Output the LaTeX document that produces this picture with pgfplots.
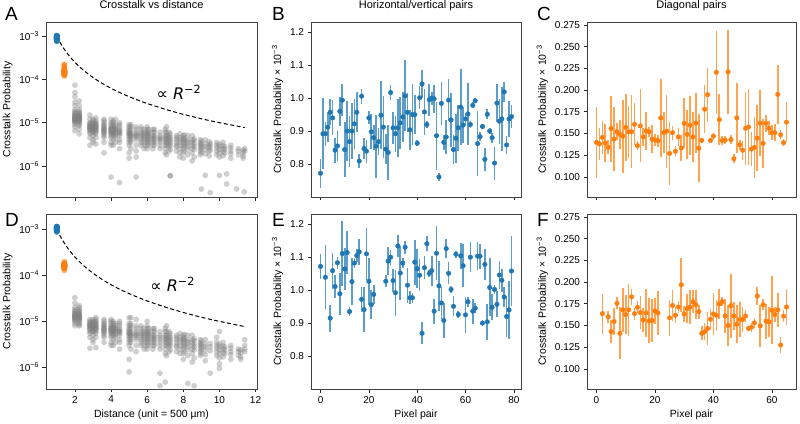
\documentclass[border=0pt]{standalone}
\usepackage{fontspec}
\setmainfont{Liberation Sans}
\newfontfamily\dejavu{DejaVu Sans}
\usepackage{pgfplots}
\usepackage{pgfplotstable}
\pgfplotsset{compat=1.18}
\definecolor{mblue}{HTML}{1F77B4}
\definecolor{morange}{HTML}{FF7F0E}
\pgfkeys{/pgf/number format/assume math mode=true}

\pgfplotstableread{
x y e
0 0.772 0.044
1 0.892 0.107
2 0.892 0.037
3 0.912 0.046
4 0.957 0.039
5 0.940 0.053
6 0.842 0.038
7 0.855 0.045
8 0.960 0.044
9 0.994 0.049
10 0.844 0.083
11 0.900 0.090
12 0.868 0.078
13 0.900 0.086
14 0.922 0.075
15 0.957 0.061
16 0.809 0.021
17 1.006 0.023
18 0.847 0.033
19 0.839 0.035
20 0.940 0.020
21 0.898 0.053
22 0.880 0.038
23 0.854 0.095
24 0.868 0.040
25 0.948 0.103
26 0.912 0.095
27 0.845 0.045
28 0.835 0.083
29 1.017 0.023
30 0.910 0.048
31 0.892 0.055
32 0.910 0.088
33 0.925 0.078
34 0.943 0.075
35 1.007 0.108
36 0.957 0.060
37 0.904 0.060
38 0.950 0.093
39 0.950 0.060
40 0.863 0.009
41 1.001 0.035
42 1.043 0.043
43 0.958 0.070
44 0.920 0.011
45 0.995 0.048
46 1.000 0.020
47 0.998 0.043
48 0.886 0.103
49 0.761 0.013
50 0.984 0.065
51 0.866 0.023
52 0.882 0.053
53 0.994 0.064
54 0.934 0.083
55 0.844 0.045
56 0.878 0.075
57 0.910 0.070
58 0.973 0.115
59 0.918 0.055
60 0.937 0.018
61 0.952 0.095
62 0.920 0.010
63 0.978 0.009
64 0.992 0.008
65 0.862 0.098
66 0.883 0.013
67 0.914 0.009
68 0.814 0.035
69 0.951 0.015
70 0.900 0.010
71 0.880 0.015
72 0.803 0.050
73 0.985 0.058
74 0.930 0.068
75 0.937 0.098
76 1.019 0.030
77 0.858 0.028
78 0.937 0.055
79 0.944 0.035
}\tabB

\pgfplotstableread{
x y e
0 1.072 0.038
2 1.039 0.097
4 0.915 0.041
5 1.059 0.055
6 1.011 0.034
7 1.083 0.018
8 0.989 0.063
9 1.111 0.098
10 1.064 0.064
11 1.114 0.064
12 0.935 0.015
13 1.026 0.070
14 1.082 0.015
15 1.105 0.021
16 1.116 0.040
17 0.972 0.038
18 0.941 0.068
19 1.110 0.079
20 1.027 0.071
21 0.956 0.043
22 0.987 0.030
27 1.027 0.018
28 1.088 0.043
29 1.100 0.023
30 1.029 0.035
31 0.992 0.069
32 1.134 0.034
33 1.052 0.083
34 1.082 0.014
35 1.130 0.020
36 1.015 0.053
37 0.977 0.020
38 0.977 0.015
39 1.085 0.068
40 1.065 0.060
41 1.045 0.049
42 0.869 0.033
43 1.068 0.035
44 1.141 0.023
45 1.051 0.010
46 1.059 0.046
47 0.936 0.038
48 1.112 0.082
49 1.013 0.075
50 0.961 0.048
51 0.908 0.053
52 1.126 0.028
53 1.051 0.033
54 1.002 0.012
55 0.951 0.030
56 1.109 0.011
57 0.926 0.010
58 1.104 0.040
59 1.074 0.065
60 0.925 0.055
61 0.965 0.015
62 1.100 0.045
63 0.936 0.038
64 0.945 0.015
65 1.103 0.043
66 1.103 0.038
67 0.900 0.010
68 1.078 0.048
69 0.904 0.055
70 1.008 0.088
71 0.948 0.040
72 1.002 0.013
73 0.957 0.040
74 1.046 0.043
75 1.030 0.035
76 0.979 0.030
77 0.920 0.063
78 0.940 0.088
79 1.058 0.105
}\tabE

\pgfplotstableread{
x y e
0 0.1398 0.041
1 0.1380 0.018
2 0.1455 0.019
3 0.1390 0.022
4 0.1340 0.008
5 0.1557 0.038
6 0.1435 0.037
7 0.1520 0.010
8 0.1490 0.017
9 0.1470 0.042
10 0.1570 0.039
11 0.1520 0.030
12 0.1520 0.042
13 0.1606 0.024
14 0.1360 0.005
15 0.1587 0.042
16 0.1460 0.010
17 0.1530 0.022
18 0.1520 0.006
19 0.1435 0.016
20 0.1425 0.007
21 0.1417 0.007
22 0.1680 0.045
23 0.1510 0.024
24 0.1527 0.042
25 0.1270 0.036
26 0.1510 0.008
27 0.1295 0.006
28 0.1460 0.010
29 0.1333 0.015
30 0.1617 0.029
31 0.1490 0.028
32 0.1595 0.034
33 0.1460 0.029
34 0.1620 0.035
35 0.1330 0.039
36 0.1420 0.003
37 0.1780 0.028
38 0.1947 0.031
39 0.1420 0.003
40 0.1470 0.004
41 0.2205 0.048
42 0.1660 0.029
43 0.1420 0.005
44 0.1424 0.005
45 0.2210 0.048
46 0.1430 0.005
47 0.1210 0.005
48 0.1680 0.040
49 0.1370 0.006
50 0.1307 0.011
51 0.1560 0.042
52 0.1576 0.044
53 0.1320 0.020
54 0.1340 0.035
55 0.1447 0.038
56 0.1620 0.038
57 0.1386 0.028
58 0.1617 0.010
59 0.1560 0.008
60 0.1510 0.009
61 0.1510 0.010
62 0.1950 0.034
63 0.1485 0.005
64 0.1394 0.004
65 0.1630 0.023
}\tabC

\pgfplotstableread{
x y e
2 0.1637 0.023
4 0.1600 0.007
5 0.1430 0.013
6 0.1546 0.016
7 0.1755 0.007
8 0.1409 0.030
9 0.1680 0.025
10 0.1626 0.022
11 0.1680 0.030
12 0.1830 0.009
13 0.1637 0.007
14 0.1710 0.007
15 0.1649 0.019
16 0.1565 0.014
17 0.1645 0.028
18 0.1553 0.026
19 0.1557 0.025
20 0.1668 0.015
21 0.1645 0.025
25 0.1588 0.021
26 0.1730 0.018
27 0.1618 0.009
28 0.1713 0.007
29 0.1969 0.031
30 0.1633 0.009
31 0.1694 0.017
32 0.1713 0.020
33 0.1774 0.013
34 0.1740 0.017
35 0.1660 0.008
36 0.1409 0.008
37 0.1428 0.010
38 0.1466 0.019
39 0.1572 0.012
40 0.1633 0.024
41 0.1618 0.018
42 0.1748 0.017
43 0.1774 0.005
44 0.1610 0.020
45 0.1500 0.024
46 0.1729 0.037
47 0.1610 0.016
48 0.1515 0.022
49 0.1569 0.020
50 0.1569 0.014
51 0.1610 0.007
52 0.1466 0.003
53 0.1480 0.005
54 0.1530 0.006
55 0.1840 0.010
56 0.1496 0.024
57 0.1740 0.006
58 0.1550 0.020
59 0.1542 0.017
60 0.1675 0.039
61 0.1626 0.009
62 0.1680 0.020
63 0.1275 0.009
64 0.1607 0.007
65 0.1713 0.021
}\tabF

\pgfplotsset{
  panel/.style={
    scale only axis, height=175pt, anchor=south west,
    axis line style={black!75, line width=0.6pt},
    tick style={black!85, line width=0.6pt},
    major tick length=3.5pt, minor tick length=2pt,
    tick align=outside, tick pos=left,
    tick label style={font=\fontsize{10}{12}\selectfont, black},
    label style={font=\fontsize{10.5}{12}\selectfont},
    title style={font=\fontsize{11}{13}\selectfont, at={(0.5,1)}, anchor=base, yshift=7.5pt, inner sep=0pt},
  },
  logpanel/.style={panel, width=211pt, xmin=0.40, xmax=12.08,
    xtick={2,4,6,8,10,12},
    ytick={1e-6,1e-5,1e-4,1e-3},
    yticklabels={10\textsuperscript{−6},10\textsuperscript{−5},10\textsuperscript{−4},10\textsuperscript{−3}},
    yminorticks=false,
    ylabel={Crosstalk Probability}},
  hvpanel/.style={panel, width=210pt, xmin=-3.95, xmax=82.95, ymin=0.70, ymax=1.231,
    xtick={0,20,40,60,80}, ytick={0.8,0.9,1.0,1.1,1.2},
    yticklabel style={/pgf/number format/.cd, fixed, fixed zerofill, precision=1},
    ylabel={Crosstalk Probability × 10\textsuperscript{−3}}},
  dgpanel/.style={panel, width=209pt, xmin=-3.25, xmax=68.25, ymin=0.0768, ymax=0.2785,
    xtick={0,20,40,60}, ytick={0.100,0.125,0.150,0.175,0.200,0.225,0.250,0.275},
    yticklabel style={/pgf/number format/.cd, fixed, fixed zerofill, precision=3},
    ylabel={Crosstalk Probability × 10\textsuperscript{−3}}},
  greypts/.style={only marks, mark=*, mark size=2.9pt, color=gray,
    mark options={fill=gray, fill opacity=0.38, draw opacity=0}},
  clus/.style={only marks, mark=*, mark size=2.9pt, color=#1,
    mark options={fill=#1, fill opacity=0.6, draw opacity=0}},
  eb/.style={only marks, mark=*, mark size=2.3pt, color=#1,
    error bars/.cd, y dir=both, y explicit, error mark=none,
    error bar style={line width=1.6pt, #1, opacity=0.72}},
}

\begin{document}
\begin{tikzpicture}

% ---------------- A ----------------
\begin{axis}[ymode=log, logpanel, at={(46pt,226pt)}, ymin=1.9e-7, ymax=2.14e-3,
  xticklabels={}, title={Crosstalk vs distance}]
\addplot[greypts] coordinates {
(2,13e-6)(2,12e-6)(2,11e-6)(2,14e-6)(2,15e-6)(2,10e-6)(2,9e-6)(2,16e-6)(2,18e-6)(2,12.5e-6)(2,11.5e-6)(2,13.5e-6)(2,8e-6)(2,20e-6)(2,25e-6)(2,40e-6)(2,50e-6)(2,74e-6)(2,30e-6)(2,14.5e-6)(2,10.5e-6)(2,17e-6)(2,12e-6)(2,13e-6)(2,11e-6)(2,6.5e-6)
(2.24,12e-6)(2.24,13e-6)(2.24,14e-6)(2.24,11e-6)(2.24,10e-6)(2.24,15e-6)(2.24,9e-6)(2.24,16e-6)(2.24,17e-6)(2.24,12.5e-6)(2.24,13.5e-6)(2.24,11.5e-6)(2.24,8.5e-6)(2.24,7e-6)(2.24,5.5e-6)(2.24,20e-6)(2.24,25e-6)(2.24,32e-6)(2.24,14.5e-6)(2.24,10.5e-6)(2.24,18e-6)(2.24,12e-6)(2.24,13e-6)(2.24,15e-6)(2.24,11e-6)
(2.83,7e-6)(2.83,8e-6)(2.83,9e-6)(2.83,6e-6)(2.83,7.5e-6)(2.83,8.5e-6)(2.83,10e-6)(2.83,5.5e-6)(2.83,12e-6)(2.83,15e-6)(2.83,6.5e-6)(2.83,4.5e-6)(2.83,3e-6)(2.83,7.2e-6)(2.83,8.2e-6)(2.83,9.5e-6)
(3,7e-6)(3,8e-6)(3,6.5e-6)(3,9e-6)(3,7.5e-6)(3,10e-6)(3,5e-6)(3,8.5e-6)(3,6e-6)(3,12e-6)(3,11e-6)(3,4e-6)(3,3.5e-6)(3,7.8e-6)(3,9.5e-6)(3,7e-6)(3,8e-6)(3,6e-6)
(3.16,7.5e-6)(3.16,8e-6)(3.16,9e-6)(3.16,6.5e-6)(3.16,10e-6)(3.16,7e-6)(3.16,5.5e-6)(3.16,11e-6)(3.16,13e-6)(3.16,8.5e-6)(3.16,6e-6)(3.16,4.5e-6)(3.16,3.2e-6)(3.16,9.5e-6)(3.16,7e-6)(3.16,8e-6)
(3.61,7e-6)(3.61,6e-6)(3.61,8e-6)(3.61,5e-6)(3.61,9e-6)(3.61,10e-6)(3.61,6.5e-6)(3.61,7.5e-6)(3.61,11e-6)(3.61,4.5e-6)(3.61,3.5e-6)(3.61,12e-6)(3.61,5.5e-6)(3.61,8.5e-6)(3.61,2e-6)(3.61,7e-6)(3.61,6e-6)
(4,6e-6)(4,7e-6)(4,5.5e-6)(4,8e-6)(4,9e-6)(4,4.5e-6)(4,10e-6)(4,6.5e-6)(4,7.5e-6)(4,3.5e-6)(4,12e-6)(4,5e-6)(4,3e-6)(4,0.55e-6)(4,6e-6)(4,7e-6)
(4.12,6e-6)(4.12,7e-6)(4.12,8e-6)(4.12,5e-6)(4.12,9e-6)(4.12,10e-6)(4.12,4e-6)(4.12,6.5e-6)(4.12,11e-6)(4.12,7.5e-6)(4.12,5.5e-6)(4.12,3e-6)(4.12,6e-6)
(4.24,6e-6)(4.24,5e-6)(4.24,7e-6)(4.24,8e-6)(4.24,4.5e-6)(4.24,9e-6)(4.24,5.5e-6)(4.24,12e-6)(4.24,3.5e-6)(4.24,6.5e-6)(4.24,7e-6)
(4.47,6.5e-6)(4.47,5e-6)(4.47,7e-6)(4.47,8e-6)(4.47,4e-6)(4.47,9e-6)(4.47,5.5e-6)(4.47,3.5e-6)(4.47,10e-6)(4.47,6e-6)(4.47,2.5e-6)(4.47,0.41e-6)(4.47,6e-6)
(5,5e-6)(5,6e-6)(5,4.5e-6)(5,7e-6)(5,5.5e-6)(5,8e-6)(5,3.5e-6)(5,4e-6)(5,9e-6)(5,6.5e-6)(5,3e-6)(5,2e-6)(5,1.5e-6)(5,5.5e-6)
(5.1,5.5e-6)(5.1,6e-6)(5.1,4.5e-6)(5.1,7e-6)(5.1,5e-6)(5.1,8e-6)(5.1,3.5e-6)(5.1,4e-6)(5.1,9e-6)(5.1,2.5e-6)(5.1,5e-6)
(5.39,5e-6)(5.39,6e-6)(5.39,4e-6)(5.39,7e-6)(5.39,5.5e-6)(5.39,3e-6)(5.39,8e-6)(5.39,4.5e-6)(5.39,2.2e-6)(5.39,1.6e-6)(5.39,0.55e-6)(5.39,5e-6)
(5.66,5e-6)(5.66,4e-6)(5.66,6e-6)(5.66,4.5e-6)(5.66,3.5e-6)(5.66,7e-6)(5.66,5.5e-6)(5.66,8e-6)(5.66,3e-6)
(5.83,4.5e-6)(5.83,5.5e-6)(5.83,4e-6)(5.83,6e-6)(5.83,3.5e-6)(5.83,7e-6)(5.83,5e-6)(5.83,3e-6)(5.83,2.5e-6)
(6,5e-6)(6,4e-6)(6,6e-6)(6,4.5e-6)(6,3.5e-6)(6,5.5e-6)(6,7e-6)(6,3e-6)(6,8e-6)(6,2.5e-6)
(6.08,4.5e-6)(6.08,5e-6)(6.08,4e-6)(6.08,6e-6)(6.08,3.5e-6)(6.08,7e-6)(6.08,5.5e-6)(6.08,3e-6)
(6.32,4.5e-6)(6.32,5e-6)(6.32,3.5e-6)(6.32,6e-6)(6.32,4e-6)(6.32,7e-6)(6.32,3e-6)(6.32,2.5e-6)
(6.4,4e-6)(6.4,5e-6)(6.4,3.5e-6)(6.4,6e-6)(6.4,4.5e-6)(6.4,3e-6)(6.4,7e-6)
(6.71,4e-6)(6.71,4.5e-6)(6.71,5e-6)(6.71,3.5e-6)(6.71,6e-6)(6.71,3e-6)(6.71,2.5e-6)(6.71,4.2e-6)
(7,4e-6)(7,3.5e-6)(7,5e-6)(7,4.5e-6)(7,3e-6)(7,6e-6)(7,2.5e-6)(7,2e-6)(7,7e-6)
(7.07,4e-6)(7.07,5e-6)(7.07,3.5e-6)(7.07,4.5e-6)(7.07,6e-6)(7.07,3e-6)(7.07,8e-6)(7.07,1.8e-6)
(7.21,3.8e-6)(7.21,4.5e-6)(7.21,3.2e-6)(7.21,5e-6)(7.21,2.8e-6)(7.21,6e-6)(7.21,2.2e-6)
(7.28,4e-6)(7.28,3.5e-6)(7.28,4.5e-6)(7.28,5.5e-6)(7.28,3e-6)(7.28,2.4e-6)(7.28,0.59e-6)(7.28,0.59e-6)
(7.62,3.5e-6)(7.62,4e-6)(7.62,3e-6)(7.62,4.5e-6)(7.62,2.8e-6)(7.62,5e-6)(7.62,2.2e-6)
(7.81,3.5e-6)(7.81,3e-6)(7.81,4e-6)(7.81,4.5e-6)(7.81,2.5e-6)(7.81,5.5e-6)(7.81,2e-6)(7.81,1.6e-6)
(8,3.5e-6)(8,3e-6)(8,4e-6)(8,2.5e-6)(8,5e-6)(8,4.5e-6)(8,2e-6)(8,1.5e-6)
(8.06,3.2e-6)(8.06,3.8e-6)(8.06,2.8e-6)(8.06,4.2e-6)(8.06,5.2e-6)(8.06,2.2e-6)
(8.25,3.2e-6)(8.25,2.8e-6)(8.25,4e-6)(8.25,2.4e-6)(8.25,5e-6)(8.25,1.8e-6)(8.25,3.6e-6)
(8.49,3e-6)(8.49,3.5e-6)(8.49,2.5e-6)(8.49,4e-6)(8.49,2e-6)(8.49,5e-6)(8.49,1.3e-6)
(8.6,3.2e-6)(8.6,2.8e-6)(8.6,3.8e-6)(8.6,2.4e-6)(8.6,4.2e-6)(8.6,1.6e-6)
(8.94,3e-6)(8.94,2.6e-6)(8.94,3.4e-6)(8.94,2.2e-6)(8.94,4e-6)(8.94,1.8e-6)
(9,2.8e-6)(9,3.2e-6)(9,2.4e-6)(9,3.8e-6)(9,2e-6)(9,0.29e-6)
(9.22,2.8e-6)(9.22,3.2e-6)(9.22,2.4e-6)(9.22,4e-6)(9.22,1.9e-6)(9.22,0.6e-6)
(9.43,2.6e-6)(9.43,3e-6)(9.43,2.2e-6)(9.43,3.6e-6)(9.43,1.7e-6)
(9.49,2.8e-6)(9.49,3.3e-6)(9.49,2.3e-6)(9.49,0.24e-6)
(9.85,2.6e-6)(9.85,3e-6)(9.85,2.2e-6)(9.85,3.5e-6)(9.85,1.8e-6)
(10,2.4e-6)(10,2.8e-6)(10,2e-6)(10,3.2e-6)(10,1.6e-6)(10,0.6e-6)
(10.2,2.5e-6)(10.2,2.1e-6)(10.2,2.9e-6)(10.2,3.5e-6)(10.2,1.7e-6)
(10.3,2.4e-6)(10.3,2e-6)(10.3,2.8e-6)(10.4,0.65e-6)(10.4,0.38e-6)
(10.63,2.2e-6)(10.63,2.6e-6)(10.63,1.9e-6)(10.63,3e-6)(10.63,1.5e-6)
(11.05,2.2e-6)(11.05,1.8e-6)(11.05,2.5e-6)(10.95,0.29e-6)
(11.31,2e-6)(11.31,2.3e-6)(11.31,1.7e-6)(11.31,1.5e-6)
(11.4,2.2e-6)(11.4,2.5e-6)(11.38,0.25e-6)
};
\addplot[clus=morange] table[x expr=1.414, y expr=\thisrow{y}*1e-3] {\tabC};
\addplot[clus=mblue] table[x expr=1, y expr=\thisrow{y}*1e-3] {\tabB};
\addplot[black, line width=1pt, dash pattern=on 4pt off 2.5pt, smooth] coordinates {
(1,1.0e-3)(1.2,6.94e-4)(1.4,5.1e-4)(1.6,3.91e-4)(1.8,3.09e-4)(2,2.5e-4)(2.3,1.89e-4)(2.6,1.48e-4)(3,1.11e-4)(3.5,8.16e-5)(4,6.25e-5)(4.5,4.94e-5)(5,4.0e-5)(5.5,3.31e-5)(6,2.78e-5)(7,2.04e-5)(8,1.56e-5)(9,1.23e-5)(10,1.0e-5)(11.4,7.7e-6)};
\node[font=\dejavu\fontsize{16}{18}\selectfont] at (rel axis cs:0.63,0.6) {∝ \textit{R}\textsuperscript{−2}};
\end{axis}

% ---------------- D ----------------
\begin{axis}[ymode=log, logpanel, at={(46pt,34pt)}, ymin=3.4e-7, ymax=2.14e-3,
  xlabel={Distance (unit = 500 µm)}]
\addplot[greypts] coordinates {
(2,13e-6)(2,12e-6)(2,14e-6)(2,15e-6)(2,11e-6)(2,10e-6)(2,16e-6)(2,18e-6)(2,12.5e-6)(2,13.5e-6)(2,11.5e-6)(2,9e-6)(2,20e-6)(2,25e-6)(2,33e-6)(2,14.5e-6)(2,10.5e-6)(2,17e-6)(2,12e-6)(2,13e-6)(2,8e-6)
(2.24,12e-6)(2.24,13e-6)(2.24,14e-6)(2.24,11e-6)(2.24,10e-6)(2.24,15e-6)(2.24,9e-6)(2.24,16e-6)(2.24,17e-6)(2.24,12.5e-6)(2.24,13.5e-6)(2.24,11.5e-6)(2.24,8.5e-6)(2.24,20e-6)(2.24,22e-6)(2.24,14.5e-6)(2.24,10.5e-6)(2.24,18e-6)(2.24,12e-6)(2.24,8e-6)
(2.83,7e-6)(2.83,8e-6)(2.83,9e-6)(2.83,6e-6)(2.83,7.5e-6)(2.83,8.5e-6)(2.83,10e-6)(2.83,5.5e-6)(2.83,11e-6)(2.83,6.5e-6)(2.83,4.5e-6)(2.83,2.6e-6)(2.83,7.2e-6)(2.83,8.2e-6)(2.83,9.5e-6)
(3,7e-6)(3,8e-6)(3,6.5e-6)(3,9e-6)(3,7.5e-6)(3,10e-6)(3,5e-6)(3,8.5e-6)(3,6e-6)(3,11e-6)(3,4e-6)(3,3.5e-6)(3,7.8e-6)(3,9.5e-6)(3,7e-6)(3,8e-6)(3,6e-6)
(3.16,7.5e-6)(3.16,8e-6)(3.16,9e-6)(3.16,6.5e-6)(3.16,10e-6)(3.16,7e-6)(3.16,5.5e-6)(3.16,11e-6)(3.16,12e-6)(3.16,8.5e-6)(3.16,6e-6)(3.16,4.5e-6)(3.16,2.7e-6)(3.16,9.5e-6)(3.16,7e-6)(3.16,8e-6)
(3.61,7e-6)(3.61,6e-6)(3.61,8e-6)(3.61,5e-6)(3.61,9e-6)(3.61,10e-6)(3.61,6.5e-6)(3.61,7.5e-6)(3.61,11e-6)(3.61,4.5e-6)(3.61,3.5e-6)(3.61,5.5e-6)(3.61,8.5e-6)(3.61,7e-6)(3.61,6e-6)
(4,6e-6)(4,7e-6)(4,5.5e-6)(4,8e-6)(4,9e-6)(4,4.5e-6)(4,10e-6)(4,6.5e-6)(4,7.5e-6)(4,3.5e-6)(4,11e-6)(4,5e-6)(4,3e-6)(4,6e-6)(4,7e-6)
(4.12,6e-6)(4.12,7e-6)(4.12,8e-6)(4.12,5e-6)(4.12,9e-6)(4.12,10e-6)(4.12,4e-6)(4.12,6.5e-6)(4.12,7.5e-6)(4.12,5.5e-6)(4.12,3e-6)(4.12,6e-6)
(4.24,6e-6)(4.24,5e-6)(4.24,7e-6)(4.24,8e-6)(4.24,4.5e-6)(4.24,9e-6)(4.24,5.5e-6)(4.24,3.5e-6)(4.24,6.5e-6)(4.24,7e-6)
(4.47,6.5e-6)(4.47,5e-6)(4.47,7e-6)(4.47,8e-6)(4.47,4e-6)(4.47,9e-6)(4.47,5.5e-6)(4.47,3.5e-6)(4.47,10e-6)(4.47,6e-6)(4.47,2.5e-6)(4.47,6e-6)
(5,5e-6)(5,6e-6)(5,4.5e-6)(5,7e-6)(5,5.5e-6)(5,8e-6)(5,3.5e-6)(5,4e-6)(5,9e-6)(5,6.5e-6)(5,3e-6)(5,1.5e-6)(5,0.8e-6)(5,12e-6)(5,5.5e-6)
(5.1,5.5e-6)(5.1,6e-6)(5.1,4.5e-6)(5.1,7e-6)(5.1,5e-6)(5.1,8e-6)(5.1,3.5e-6)(5.1,4e-6)(5.1,9e-6)(5.1,2.5e-6)(5.1,5e-6)(5.1,12e-6)
(5.39,5e-6)(5.39,6e-6)(5.39,4e-6)(5.39,7e-6)(5.39,5.5e-6)(5.39,3e-6)(5.39,8e-6)(5.39,4.5e-6)(5.39,2.2e-6)(5.39,5e-6)(5.39,11e-6)
(5.66,5e-6)(5.66,4e-6)(5.66,6e-6)(5.66,4.5e-6)(5.66,3.5e-6)(5.66,7e-6)(5.66,5.5e-6)(5.66,8e-6)(5.66,3e-6)
(5.83,4.5e-6)(5.83,5.5e-6)(5.83,4e-6)(5.83,6e-6)(5.83,3.5e-6)(5.83,7e-6)(5.83,5e-6)(5.83,3e-6)(5.83,2.5e-6)
(6,5e-6)(6,4e-6)(6,6e-6)(6,4.5e-6)(6,3.5e-6)(6,5.5e-6)(6,7e-6)(6,3e-6)(6,8e-6)(6,2.5e-6)(6,10e-6)
(6.08,4.5e-6)(6.08,5e-6)(6.08,4e-6)(6.08,6e-6)(6.08,3.5e-6)(6.08,7e-6)(6.08,5.5e-6)(6.08,3e-6)
(6.32,4.5e-6)(6.32,5e-6)(6.32,3.5e-6)(6.32,6e-6)(6.32,4e-6)(6.32,7e-6)(6.32,3e-6)(6.32,2.5e-6)
(6.4,4e-6)(6.4,5e-6)(6.4,3.5e-6)(6.4,6e-6)(6.4,4.5e-6)(6.4,3e-6)(6.4,7e-6)
(6.71,4e-6)(6.71,4.5e-6)(6.71,5e-6)(6.71,3.5e-6)(6.71,6e-6)(6.71,3e-6)(6.71,2.5e-6)(6.71,0.4e-6)(6.71,0.75e-6)
(7,4e-6)(7,3.5e-6)(7,5e-6)(7,4.5e-6)(7,3e-6)(7,6e-6)(7,2.5e-6)(7,2e-6)(7,7e-6)(7,0.48e-6)
(7.07,4e-6)(7.07,5e-6)(7.07,3.5e-6)(7.07,4.5e-6)(7.07,6e-6)(7.07,3e-6)(7.07,8e-6)(7.07,1.8e-6)
(7.21,3.8e-6)(7.21,4.5e-6)(7.21,3.2e-6)(7.21,5e-6)(7.21,2.8e-6)(7.21,6e-6)(7.21,2.2e-6)
(7.28,4e-6)(7.28,3.5e-6)(7.28,4.5e-6)(7.28,5.5e-6)(7.28,3e-6)(7.28,2.4e-6)
(7.62,3.5e-6)(7.62,4e-6)(7.62,3e-6)(7.62,4.5e-6)(7.62,2.8e-6)(7.62,5e-6)(7.62,2.2e-6)
(7.81,3.5e-6)(7.81,3e-6)(7.81,4e-6)(7.81,4.5e-6)(7.81,2.5e-6)(7.81,5.5e-6)(7.81,2e-6)
(8,3.5e-6)(8,3e-6)(8,4e-6)(8,2.5e-6)(8,5e-6)(8,4.5e-6)(8,2e-6)(8,1.5e-6)
(8.06,3.2e-6)(8.06,3.8e-6)(8.06,2.8e-6)(8.06,4.2e-6)(8.06,5.2e-6)(8.06,2.2e-6)
(8.25,3.2e-6)(8.25,2.8e-6)(8.25,4e-6)(8.25,2.4e-6)(8.25,5e-6)(8.25,1.8e-6)(8.25,3.6e-6)(8.25,0.45e-6)
(8.49,3e-6)(8.49,3.5e-6)(8.49,2.5e-6)(8.49,4e-6)(8.49,2e-6)(8.49,5e-6)(8.49,1.3e-6)
(8.6,3.2e-6)(8.6,2.8e-6)(8.6,3.8e-6)(8.6,2.4e-6)(8.6,4.2e-6)(8.6,1.6e-6)(8.6,0.4e-6)
(8.94,3e-6)(8.94,2.6e-6)(8.94,3.4e-6)(8.94,2.2e-6)(8.94,4e-6)(8.94,1.8e-6)
(9,2.8e-6)(9,3.2e-6)(9,2.4e-6)(9,3.8e-6)(9,2e-6)
(9.22,2.8e-6)(9.22,3.2e-6)(9.22,2.4e-6)(9.22,4e-6)(9.22,1.9e-6)(9.22,1.4e-6)
(9.49,2.8e-6)(9.49,3.3e-6)(9.49,2.3e-6)(9.49,0.75e-6)
(9.85,2.6e-6)(9.85,3e-6)(9.85,2.2e-6)(9.85,3.5e-6)(9.85,1.8e-6)(9.85,4.5e-6)
(10,2.4e-6)(10,2.8e-6)(10,2e-6)(10,3.2e-6)(10,1.6e-6)(10,6e-6)(10,0.95e-6)(10,1.2e-6)
(10.2,2.5e-6)(10.2,2.1e-6)(10.2,2.9e-6)(10.2,3.5e-6)(10.2,1.7e-6)
(10.3,2.4e-6)(10.3,2e-6)(10.3,2.8e-6)
(10.63,2.2e-6)(10.63,2.6e-6)(10.63,1.9e-6)(10.63,3e-6)(10.63,1.5e-6)
(11.05,2.2e-6)(11.05,1.8e-6)(11.05,2.5e-6)
(11.18,2.1e-6)(11.18,2.4e-6)(11.18,1.7e-6)(11.18,1.5e-6)
(11.4,2.2e-6)(11.4,2.5e-6)(11.4,3e-6)(11.4,4e-6)
};
\addplot[clus=morange] table[x expr=1.414, y expr=\thisrow{y}*1e-3] {\tabF};
\addplot[clus=mblue] table[x expr=1, y expr=\thisrow{y}*1e-3] {\tabE};
\addplot[black, line width=1pt, dash pattern=on 4pt off 2.5pt, smooth] coordinates {
(1,1.0e-3)(1.2,6.94e-4)(1.4,5.1e-4)(1.6,3.91e-4)(1.8,3.09e-4)(2,2.5e-4)(2.3,1.89e-4)(2.6,1.48e-4)(3,1.11e-4)(3.5,8.16e-5)(4,6.25e-5)(4.5,4.94e-5)(5,4.0e-5)(5.5,3.31e-5)(6,2.78e-5)(7,2.04e-5)(8,1.56e-5)(9,1.23e-5)(10,1.0e-5)(11.4,7.7e-6)};
\node[font=\dejavu\fontsize{16}{18}\selectfont] at (rel axis cs:0.6,0.6) {∝ \textit{R}\textsuperscript{−2}};
\end{axis}

% ---------------- B ----------------
\begin{axis}[hvpanel, at={(311pt,226pt)}, xticklabels={}, title={Horizontal/vertical pairs}]
\addplot[eb=mblue] table[x=x, y=y, y error=e] {\tabB};
\end{axis}

% ---------------- E ----------------
\begin{axis}[hvpanel, at={(311pt,34pt)}, xlabel={Pixel pair}]
\addplot[eb=mblue] table[x=x, y=y, y error=e] {\tabE};
\end{axis}

% ---------------- C ----------------
\begin{axis}[dgpanel, at={(587pt,226pt)}, xticklabels={}, title={Diagonal pairs}]
\addplot[eb=morange] table[x=x, y=y, y error=e] {\tabC};
\end{axis}

% ---------------- F ----------------
\begin{axis}[dgpanel, at={(587pt,34pt)}, xlabel={Pixel pair}]
\addplot[eb=morange] table[x=x, y=y, y error=e] {\tabF};
\end{axis}

% panel letters
\begin{scope}[every node/.style={font=\fontsize{19}{20}\selectfont, anchor=base west, inner sep=0pt}]
\node at (5pt,402pt) {A};
\node at (272pt,402pt) {B};
\node at (537pt,402pt) {C};
\node at (5pt,196pt) {D};
\node at (272pt,196pt) {E};
\node at (537pt,196pt) {F};
\end{scope}
\pgfresetboundingbox
\useasboundingbox (0,0) rectangle (800pt,423pt);
\end{tikzpicture}
\end{document}
